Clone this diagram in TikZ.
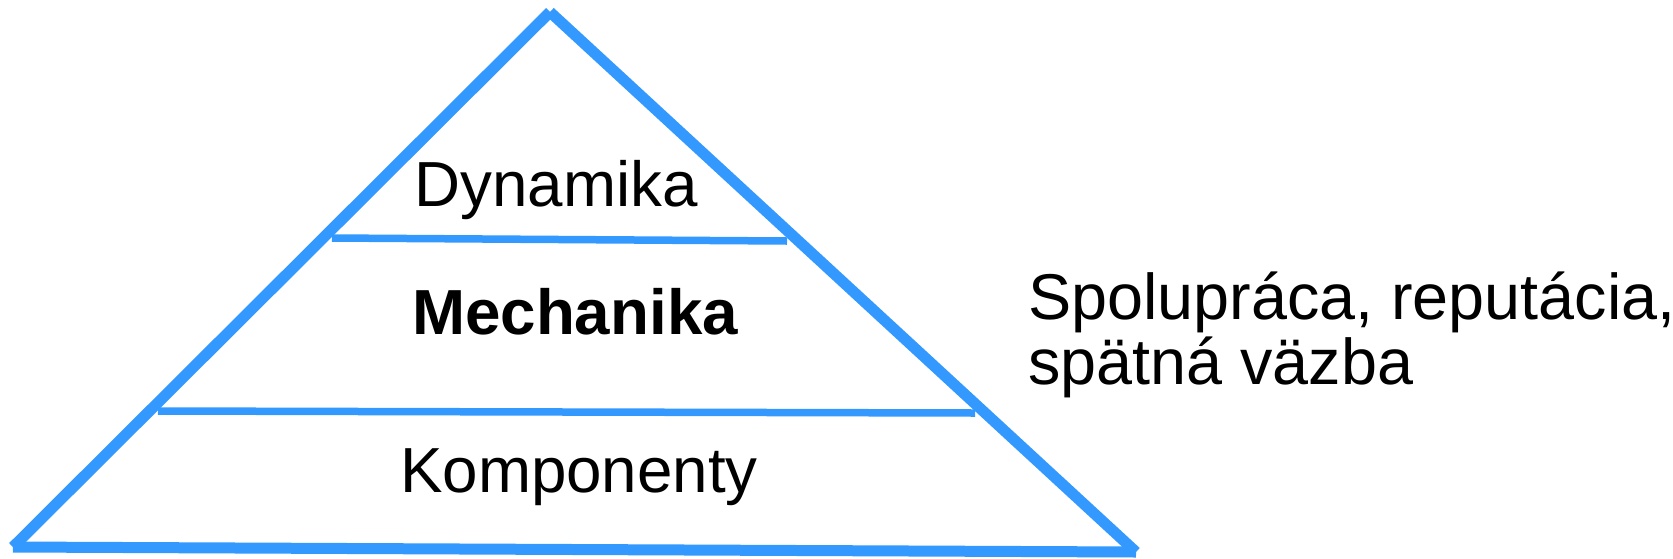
\documentclass[tikz,border=0pt]{standalone}
\usepackage{fontspec}
\setmainfont{Liberation Sans}
\definecolor{pyr}{RGB}{51,153,255}
\begin{document}
\begin{tikzpicture}[x=1pt,y=-1pt,
  outer/.style={draw=pyr,line width=11pt,line cap=butt},
  inner/.style={draw=pyr,line width=7.5pt},
  lbl/.style={anchor=base,inner sep=0pt,font=\fontsize{63.7}{63.7}\selectfont}]
\useasboundingbox (0,0) rectangle (1673,558);
\coordinate (apex) at (550,12);
\coordinate (bl) at (13,547);
\coordinate (br) at (1136,552);
\coordinate (a1) at (332,238);
\coordinate (a2) at (787,241);
\coordinate (b1) at (158,411);
\coordinate (b2) at (975,413);
\draw[outer] (bl) -- (apex);
\draw[outer] (apex) -- (br);
\draw[outer] (bl) -- (br);
\draw[inner] (a1) -- (a2);
\draw[inner] (b1) -- (b2);
\node[lbl] (dyn) at (556,206) {Dynamika};
\node[lbl,font=\fontsize{63.7}{63.7}\selectfont\bfseries] (mech) at (575,334) {Mechanika};
\node[lbl] (komp) at (579,492) {Komponenty};
\node[anchor=base west,inner sep=0pt,align=left,font=\fontsize{64.7}{65}\selectfont] (spol) at (1028,384) {Spolupráca, reputácia,\\spätná väzba};
\end{tikzpicture}
\end{document}
